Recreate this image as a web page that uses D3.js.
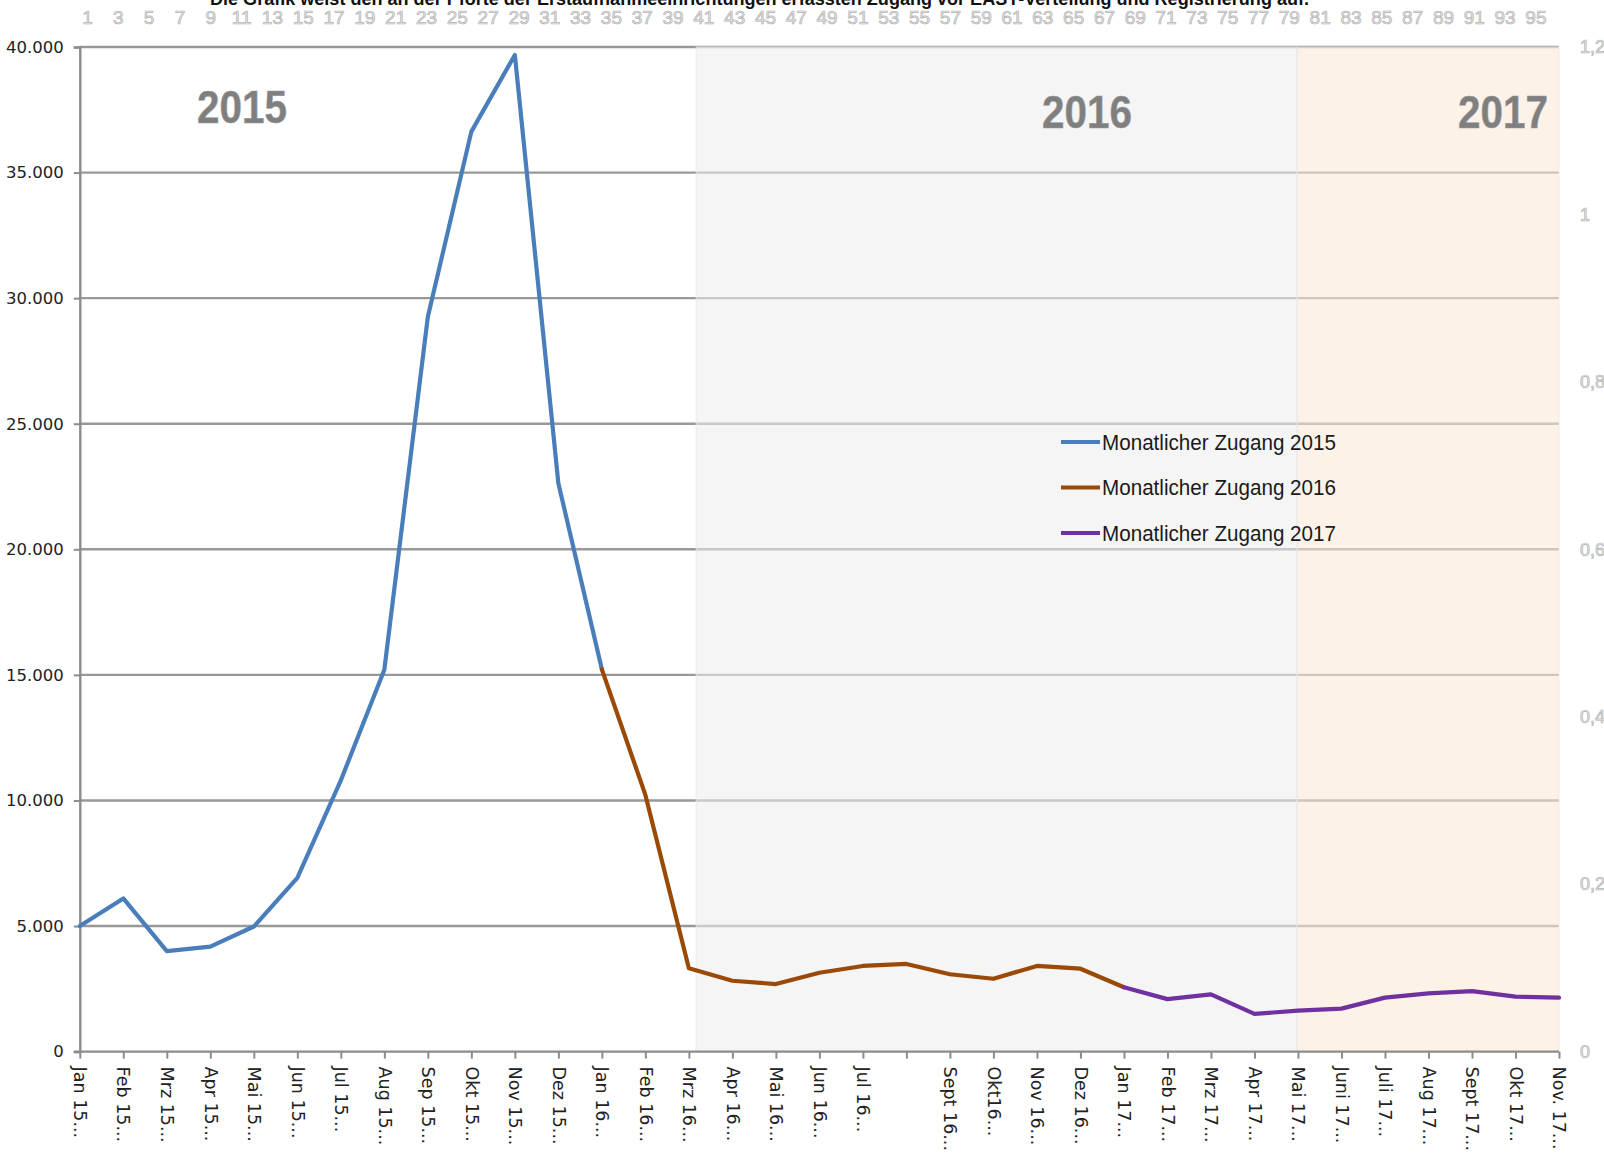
<!DOCTYPE html>
<html><head><meta charset="utf-8">
<script src="https://cdn.jsdelivr.net/npm/d3@7/dist/d3.min.js"></script>
<style>
html,body{margin:0;padding:0;background:#fff;}
svg{display:block;}
</style></head>
<body>
<svg id="chart" width="1604" height="1154"></svg>
<script>
// ---------- DATA ----------
const categories = ["Jan 15...", "Feb 15...", "Mrz 15...", "Apr 15...", "Mai 15...", "Jun 15...", "Jul 15...", "Aug 15...", "Sep 15...", "Okt 15...", "Nov 15...", "Dez 15...",
  "Jan 16...", "Feb 16...", "Mrz 16...", "Apr 16...", "Mai 16...", "Jun 16...", "Jul 16...", "", "Sept 16...", "Okt16...", "Nov 16...", "Dez 16...",
  "Jan 17...", "Feb 17...", "Mrz 17...", "Apr 17...", "Mai 17...", "Juni 17...", "Juli 17...", "Aug 17...", "Sept 17...", "Okt 17...", "Nov. 17..."];
// series values (start index into categories)
const series2015 = [5000, 6100, 4000, 4180, 4980, 6920, 10800, 15200, 29260, 36630, 39680, 22630, 15220];
const series2016 = [15220, 10220, 3320, 2820, 2690, 3140, 3410, 3490, 3080, 2900, 3410, 3300, 2560];
const series2017 = [2560, 2090, 2280, 1500, 1630, 1710, 2150, 2320, 2410, 2190, 2150];
const seriesStart = [0, 12, 24];
const seriesNames = ["Monatlicher Zugang 2015", "Monatlicher Zugang 2016", "Monatlicher Zugang 2017"];
const yTicks = [0, 5000, 10000, 15000, 20000, 25000, 30000, 35000, 40000];
const y2Ticks = [0, 0.2, 0.4, 0.6, 0.8, 1, 1.2];
// secondary category axis (background year columns)
const secondaryCount = 96;
const bandLabels = ["2015", "2016", "2017"];
const bandFirst = [1, 41, 80];
const bandLast = [40, 79, 96];
const bandValue = 1.2;
const title = "Die Grafik weist den an der Pforte der Erstaufnahmeeinrichtungen erfassten Zugang vor EASY-Verteilung und Registrierung auf.";

// ---------- LAYOUT ----------
const L = 79.8, R = 1559, T = 47, B = 1051.6;
const colors = ["#4a7ebb", "#9a4a06", "#7030a0"];
const bandFill = ["none", "#ededed", "#fbe8d6"];

const svg = d3.select("#chart");
const x = d3.scalePoint().domain(d3.range(categories.length)).range([L, R]);
const x2 = d3.scaleBand().domain(d3.range(1, secondaryCount + 1)).range([L, R]).padding(0);
const y = d3.scaleLinear().domain([0, 40000]).range([B, T]);
const y2 = d3.scaleLinear().domain([0, 1.2]).range([B, T]);

// title (partly cut off at top, as in the original)
svg.append("text").attr("x", 210).attr("y", 4.5)
  .attr("textLength", 1099).attr("lengthAdjust", "spacingAndGlyphs")
  .style("font-family", "Liberation Sans, Arial, sans-serif").style("font-weight", "bold")
  .style("font-size", "18px").attr("fill", "#111").text(title);

// gridlines
svg.append("g").selectAll("line").data(yTicks.filter(d => d > 0)).join("line")
  .attr("x1", L).attr("x2", R).attr("y1", d => y(d)).attr("y2", d => y(d))
  .attr("stroke", "#989898").attr("stroke-width", 2.4);

// background year columns on secondary axis
svg.append("g").selectAll("rect").data(bandLabels.map((b, i) => i)).join("rect")
  .attr("x", i => x2(bandFirst[i]))
  .attr("width", i => x2(bandLast[i]) + x2.bandwidth() - x2(bandFirst[i]))
  .attr("y", y2(bandValue)).attr("height", y2(0) - y2(bandValue))
  .attr("fill", i => bandFill[i]).attr("fill-opacity", 0.56)
  .attr("stroke", i => i === 0 ? "none" : "#e6e6e6").attr("stroke-width", 0.8);

// year labels
const yearPos = [[242, 123], [1087, 128], [1503, 128]];
svg.append("g").selectAll("text").data(bandLabels).join("text")
  .attr("x", (d, i) => yearPos[i][0] - 45).attr("y", (d, i) => yearPos[i][1])
  .attr("textLength", 90).attr("lengthAdjust", "spacingAndGlyphs")
  .style("font-family", "Liberation Sans Narrow, Arial Narrow, sans-serif")
  .style("font-weight", "bold").style("font-size", "47px")
  .attr("fill", "#7f7f7f").attr("stroke", "#9a9a9a").attr("stroke-width", 0.6)
  .text(d => d);

// left axis
const yAxis = d3.axisLeft(y).tickValues(yTicks).tickSize(6).tickPadding(10)
  .tickFormat(d => d3.format(",")(d).replace(/,/g, "."));
const gy = svg.append("g").attr("transform", `translate(${L},0)`).call(yAxis);
gy.select(".domain").attr("stroke", "#8c8c8c").attr("stroke-width", 2.4);
gy.selectAll(".tick line").attr("stroke", "#8c8c8c").attr("stroke-width", 2);
gy.selectAll(".tick text").style("font-family", "DejaVu Sans, Verdana, sans-serif")
  .style("font-size", "16.5px").attr("fill", "#222");

// bottom axis
const xAxis = d3.axisBottom(x).tickSize(7).tickSizeOuter(0).tickFormat(i => categories[i]);
const gx = svg.append("g").attr("transform", `translate(0,${B})`).call(xAxis);
gx.select(".domain").attr("stroke", "#8c8c8c").attr("stroke-width", 2.4)
  .attr("d", `M${L - 6},0H${R}`);
gx.selectAll(".tick line").attr("stroke", "#8c8c8c").attr("stroke-width", 2);
gx.selectAll(".tick text")
  .attr("transform", "rotate(90)").attr("x", 15).attr("y", 0).attr("dy", "0.36em")
  .attr("text-anchor", "start")
  .style("font-family", "DejaVu Sans, Verdana, sans-serif").style("font-size", "17.5px")
  .attr("fill", "#222");

// right secondary axis
const y2Axis = d3.axisRight(y2).tickValues(y2Ticks).tickSize(0).tickPadding(21)
  .tickFormat(d => String(+d.toFixed(1)).replace(".", ","));
const gy2 = svg.append("g").attr("transform", `translate(${R},0)`).call(y2Axis);
gy2.select(".domain").remove();
gy2.selectAll(".tick text").style("font-family", "Liberation Sans Narrow, Arial Narrow, sans-serif")
  .style("font-size", "18px").attr("fill", "#e4e4e4").attr("stroke", "#b4b4b4").attr("stroke-width", 0.7);

// top secondary category axis
const x2Axis = d3.axisTop(x2).tickValues(d3.range(1, secondaryCount + 1, 2)).tickSize(0).tickPadding(0);
const gx2 = svg.append("g").attr("transform", `translate(0,24)`).call(x2Axis);
gx2.select(".domain").remove();
gx2.selectAll(".tick text").style("font-family", "Liberation Sans Narrow, Arial Narrow, sans-serif")
  .style("font-size", "19px").attr("fill", "#e4e4e4").attr("stroke", "#b4b4b4").attr("stroke-width", 0.7);

// lines
const allSeries = [series2015, series2016, series2017];
const line = d3.line().x(d => x(d.i)).y(d => y(d.v));
allSeries.forEach((s, k) => {
  svg.append("path").datum(s.map((v, j) => ({ i: seriesStart[k] + j, v })))
    .attr("d", line).attr("fill", "none").attr("stroke", colors[k])
    .attr("stroke-width", 4.2).attr("stroke-linejoin", "round").attr("stroke-linecap", "round");
});

// legend
const lg = svg.append("g");
seriesNames.forEach((n, k) => {
  const cy = 442 + k * 45.5;
  lg.append("line").attr("x1", 1061).attr("x2", 1100).attr("y1", cy).attr("y2", cy)
    .attr("stroke", colors[k]).attr("stroke-width", 4.2);
  lg.append("text").attr("x", 1102).attr("y", cy).attr("dy", "0.36em")
    .attr("textLength", 234).attr("lengthAdjust", "spacingAndGlyphs")
    .style("font-family", "Liberation Sans, Arial, sans-serif").style("font-size", "22px")
    .attr("fill", "#1a1a1a").text(n);
});
</script>
</body></html>
